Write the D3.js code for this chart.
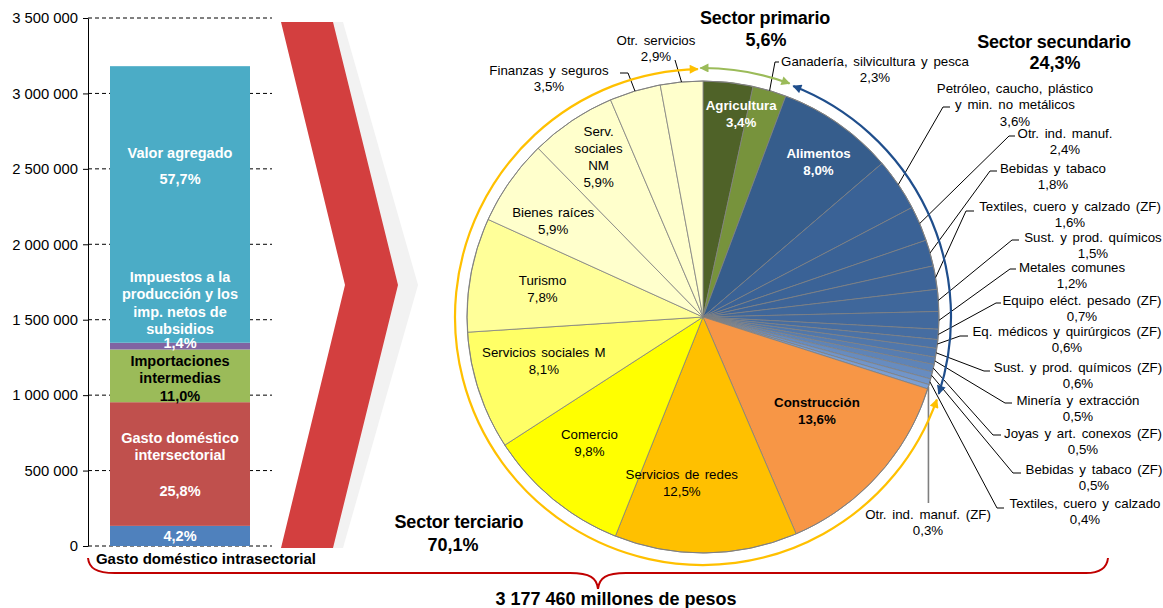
<!DOCTYPE html>
<html>
<head>
<meta charset="utf-8">
<script src="https://cdn.jsdelivr.net/npm/d3@7"></script>
<style>
  body { margin: 0; background: #fff; }
  svg { font-family: "Liberation Sans", Arial, sans-serif; }
</style>
</head>
<body>
<div id="chart"></div>
<script>
// ---------- data ----------
const total = 3177460
const totalLabel = "3 177 460 millones de pesos"

const barNames = [
  "Gasto doméstico intrasectorial",
  "Gasto doméstico intersectorial",
  "Importaciones intermedias",
  "Impuestos a la producción y los imp. netos de subsidios",
  "Valor agregado"
]
const barShares = [4.2, 25.8, 11.0, 1.4, 57.7]
const barColors = ["#4F81BD", "#C0504D", "#9BBB59", "#8064A2", "#4BACC6"]
const yTicks = [0, 500000, 1000000, 1500000, 2000000, 2500000, 3000000, 3500000]

const pieNames = [
  "Agricultura", "Ganadería, silvicultura y pesca", "Alimentos",
  "Petróleo, caucho, plástico\ny min. no metálicos", "Otr. ind. manuf.",
  "Bebidas y tabaco", "Textiles, cuero y calzado (ZF)", "Sust. y prod. químicos",
  "Metales comunes", "Equipo eléct. pesado (ZF)", "Eq. médicos y quirúrgicos (ZF)",
  "Sust. y prod. químicos (ZF)", "Minería y extracción", "Joyas y art. conexos (ZF)",
  "Bebidas y tabaco (ZF)", "Textiles, cuero y calzado", "Otr. ind. manuf. (ZF)",
  "Construcción", "Servicios de redes", "Comercio", "Servicios sociales M",
  "Turismo", "Bienes raíces", "Serv.\nsociales\nNM", "Finanzas y seguros", "Otr. servicios"
]
const pieShares = [3.4, 2.3, 8.0, 3.6, 2.4, 1.8, 1.6, 1.5, 1.2, 0.7, 0.6, 0.6, 0.5, 0.5,
  0.5, 0.4, 0.3, 13.6, 12.5, 9.8, 8.1, 7.8, 5.9, 5.9, 3.5, 2.9]
const pieSector = [0, 0, 1, 1, 1, 1, 1, 1, 1, 1, 1, 1, 1, 1, 1, 1, 1, 2, 2, 2, 2, 2, 2, 2, 2, 2]

const sectorNames = ["Sector primario", "Sector secundario", "Sector terciario"]
const sectorShares = [5.6, 24.3, 70.1]

// ---------- styles ----------
const smallBlues = d3.range(14).map(i => d3.interpolateRgb("#3A6296", "#7B9FD3")(Math.pow(i / 13, 2.2)))
const pieColors = ["#4F6228", "#77933C", "#365D8C"].concat(smallBlues).concat(
  ["#F79646", "#FFC000", "#FFFF00", "#FFFF66", "#FFFF99", "#FFFFCC", "#FFFFCC", "#FFFFCC", "#FFFFCC"])
const sectorColors = ["#9BBB59", "#1F4E8C", "#FFC000"]

const pct = v => d3.format(".1f")(v).replace(".", ",") + "%"
const fmt = d3.formatLocale({ decimal: ",", thousands: " ", grouping: [3], currency: ["", ""] }).format(",.0f")

const W = 1163, H = 608
const svg = d3.select("#chart").append("svg").attr("width", W).attr("height", H)
const defs = svg.append("defs")

// ---------- left stacked bar ----------
const y = d3.scaleLinear().domain([0, 3500000]).range([546, 18])
const x = d3.scaleBand().domain(["Total"]).range([88, 272]).paddingInner(0.2).paddingOuter(0.1257)

svg.append("g").selectAll("line").data(yTicks).join("line")
  .attr("x1", 88).attr("x2", 272)
  .attr("y1", d => y(d)).attr("y2", d => y(d))
  .attr("stroke", "#000").attr("stroke-dasharray", "4,3")

let acc = 0
const segs = barShares.map((s, i) => {
  const v0 = acc
  acc += s / 100 * total
  return { name: barNames[i], share: s, v0, v1: acc, color: barColors[i] }
})

svg.append("g").selectAll("rect").data(segs).join("rect")
  .attr("x", x("Total")).attr("width", x.bandwidth())
  .attr("y", d => y(d.v1)).attr("height", d => y(d.v0) - y(d.v1))
  .attr("fill", d => d.color)

const axis = svg.append("g").attr("transform", "translate(88,0)")
  .call(d3.axisLeft(y).tickValues(yTicks).tickSize(5).tickSizeOuter(0).tickPadding(5).tickFormat(fmt))
axis.selectAll("text").attr("font-size", 14.8).attr("fill", "#000").attr("font-family", "Liberation Sans, Arial")
axis.selectAll("line, path").attr("stroke", "#000")

// label lines, offsets measured from the segment top
const barLabelLayout = [
  { lines: [pct(barShares[0])], dy: [10], color: "#fff" },
  { lines: ["Gasto doméstico", "intersectorial", pct(barShares[1])], dy: [36, 53, 89], color: "#fff" },
  { lines: ["Importaciones", "intermedias", pct(barShares[2])], dy: [11.5, 28.5, 46.5], color: "#000" },
  { lines: ["Impuestos a la", "producción y los", "imp. netos de", "subsidios", pct(barShares[3])], dy: [-66, -48.5, -31, -14, 0], color: "#fff" },
  { lines: ["Valor agregado", pct(barShares[4])], dy: [87, 113], color: "#fff" }
]
const barCx = x("Total") + x.bandwidth() / 2
segs.forEach((s, i) => {
  const L = barLabelLayout[i]
  L.lines.forEach((t, j) => {
    svg.append("text").attr("x", barCx).attr("y", y(s.v1) + L.dy[j])
      .attr("text-anchor", "middle").attr("dominant-baseline", "central")
      .attr("font-size", 14.5).attr("font-weight", "bold").attr("fill", L.color).text(t)
  })
})
svg.append("text").attr("x", 206).attr("y", 558)
  .attr("text-anchor", "middle").attr("dominant-baseline", "central")
  .attr("font-size", 15).attr("font-weight", "bold").text(barNames[0])

// ---------- chevron ----------
svg.append("path").attr("d", "M291,22L343,22L418,285L343,548L291,548L355,285Z").attr("fill", "#F2F2F2")
svg.append("path").attr("d", "M281,22L333,22L398,285L333,548L281,548L345,285Z").attr("fill", "#D33F3F")

// ---------- pie ----------
const cx = 703, cy = 317, R = 236
const pieData = pieNames.map((n, i) => ({ name: n, share: pieShares[i], color: pieColors[i], sector: pieSector[i] }))
const arcs = d3.pie().sort(null).value(d => d.share)(pieData)
const arc = d3.arc().innerRadius(0).outerRadius(R)
const pg = svg.append("g").attr("transform", `translate(${cx},${cy})`)
pg.selectAll("path").data(arcs).join("path")
  .attr("d", arc).attr("fill", d => d.data.color)
  .attr("stroke", "#808080").attr("stroke-width", 0.8)
pg.append("circle").attr("r", R).attr("fill", "none").attr("stroke", "#808080").attr("stroke-width", 1)

const polar = (a, r) => [cx + r * Math.sin(a), cy - r * Math.cos(a)]
const deg = Math.PI / 180

// inside labels: radius fraction and angle shift (deg)
const insideLayout = {
  0: { rf: 0.877, da: 4.5, bold: true, color: "#fff" },
  2: { rf: 0.82, da: 1.7, bold: true, color: "#fff" },
  17: { rf: 0.627, da: -2.6, bold: true, color: "#000" },
  18: { rf: 0.71, da: 8, color: "#000" },
  19: { rf: 0.72, da: 2.5, color: "#000" },
  20: { rf: 0.70, da: 2.8, color: "#000" },
  21: { rf: 0.69, da: -0.6, color: "#000" },
  22: { rf: 0.754, da: -2.4, color: "#000" },
  23: { rf: 0.81, da: 0.6, color: "#000" }
}
Object.entries(insideLayout).forEach(([k, L]) => {
  const d = arcs[+k]
  const a = (d.startAngle + d.endAngle) / 2 + L.da * deg
  const [px, py] = polar(a, L.rf * R)
  const lines = d.data.name.split("\n").concat([pct(d.data.share)])
  const lh = 17
  lines.forEach((t, j) => {
    svg.append("text").attr("x", px).attr("y", py + (j - (lines.length - 1) / 2) * lh)
      .attr("text-anchor", "middle").attr("dominant-baseline", "central")
      .attr("font-size", 13.3).attr("font-weight", L.bold ? "bold" : null)
      .attr("word-spacing", L.bold ? 0 : 1.5)
      .attr("fill", L.color).text(t)
  })
})

// outside callouts: text centre, first line y, elbow and horizontal end
const callouts = {
  1: { tx: 875, ty: 61, ex: 775, ey: 62, hx: 779 },
  3: { tx: 1015, ty: 88, ex: 943, ey: 107, hx: 950 },
  4: { tx: 1065, ty: 133, ex: 1009, ey: 136, hx: 1015 },
  5: { tx: 1053, ty: 168, ex: 990, ey: 171, hx: 997 },
  6: { tx: 1070, ty: 206, ex: 966, ey: 211, hx: 974 },
  7: { tx: 1093, ty: 237, ex: 1012, ey: 240, hx: 1019 },
  8: { tx: 1072, ty: 267, ex: 1010, ey: 269, hx: 1016 },
  9: { tx: 1082, ty: 300, ex: 996, ey: 303, hx: 1001 },
  10: { tx: 1067, ty: 331, ex: 960, ey: 336, hx: 968 },
  11: { tx: 1078, ty: 367, ex: 984, ey: 371, hx: 990 },
  12: { tx: 1078, ty: 400, ex: 1005, ey: 403, hx: 1012 },
  13: { tx: 1083, ty: 433, ex: 993, ey: 435, hx: 1001 },
  14: { tx: 1094, ty: 469, ex: 1013, ey: 473, hx: 1021 },
  15: { tx: 1085, ty: 503, ex: 997, ey: 508, hx: 1004 },
  16: { tx: 928, ty: 514, ex: 929, ey: 503, gray: true },
  24: { tx: 549, ty: 70, ex: 628, ey: 73, hx: 620 },
  25: { tx: 656, ty: 40, ex: 675, ey: 60 }
}
Object.entries(callouts).forEach(([k, L]) => {
  const d = arcs[+k]
  const a = (d.startAngle + d.endAngle) / 2
  const [sx, sy] = polar(a, R)
  const pts = [[sx, sy], [L.gray ? sx : L.ex, L.ey]]
  if (L.hx != null) pts.push([L.hx, L.ey])
  svg.append("path").attr("d", d3.line()(pts)).attr("fill", "none")
    .attr("stroke", L.gray ? "#7F7F7F" : "#000").attr("stroke-width", L.gray ? 1.6 : 1)
  const lines = d.data.name.split("\n").concat([pct(d.data.share)])
  lines.forEach((t, j) => {
    svg.append("text").attr("x", L.tx).attr("y", L.ty + j * 16.5)
      .attr("text-anchor", "middle").attr("dominant-baseline", "central")
      .attr("font-size", 13.3).attr("word-spacing", 2).attr("fill", "#000").text(t)
  })
})

// ---------- sector arcs ----------
function marker(id, color) {
  defs.append("marker").attr("id", id).attr("viewBox", "0 0 10 10")
    .attr("refX", 9).attr("refY", 5).attr("markerWidth", 10).attr("markerHeight", 9)
    .attr("markerUnits", "userSpaceOnUse").attr("orient", "auto-start-reverse")
    .append("path").attr("d", "M0,0L10,5L0,10Z").attr("fill", color)
}
const sectorSpan = [0, 1, 2].map(s => {
  const list = arcs.filter(d => d.data.sector === s)
  return [d3.min(list, d => d.startAngle), d3.max(list, d => d.endAngle)]
})
const arcPad = [[-0.6, -0.2], [0.8, 0.3], [1.7, -1.2]]
const arcR = [249, 248, 248]
sectorSpan.forEach(([a0, a1], s) => {
  marker("m" + s, sectorColors[s])
  const p = d3.path()
  p.arc(cx, cy, arcR[s], a0 + arcPad[s][0] * deg - Math.PI / 2, a1 + arcPad[s][1] * deg - Math.PI / 2)
  svg.append("path").attr("d", p.toString()).attr("fill", "none")
    .attr("stroke", sectorColors[s]).attr("stroke-width", 2.2)
    .attr("marker-start", `url(#m${s})`).attr("marker-end", `url(#m${s})`)
})

// sector titles
const sectorTitlePos = [[765, 18, 40], [1054, 42, 63], [459, 522, 545]]
sectorNames.forEach((n, s) => {
  const [tx, t1, t2] = sectorTitlePos[s]
  svg.append("text").attr("x", tx).attr("y", t1).attr("text-anchor", "middle")
    .attr("dominant-baseline", "central").attr("font-size", 18).attr("font-weight", "bold")
    .attr("letter-spacing", -0.2).text(n)
  svg.append("text").attr("x", s === 2 ? tx - 6 : tx + 1).attr("y", t2).attr("text-anchor", "middle")
    .attr("dominant-baseline", "central").attr("font-size", 18).attr("font-weight", "bold").text(pct(sectorShares[s]))
})

// ---------- bottom brace ----------
svg.append("path")
  .attr("d", "M88,558C89,568 96,573 115,573L570,573C590,573 597,578 598,589C599,578 606,573 626,573L1086,573C1100,573 1107,568 1108,558")
  .attr("fill", "none").attr("stroke", "#C00000").attr("stroke-width", 2)
svg.append("text").attr("x", 616).attr("y", 599).attr("text-anchor", "middle")
  .attr("dominant-baseline", "central").attr("font-size", 18).attr("font-weight", "bold").text(totalLabel)
</script>
</body>
</html>
